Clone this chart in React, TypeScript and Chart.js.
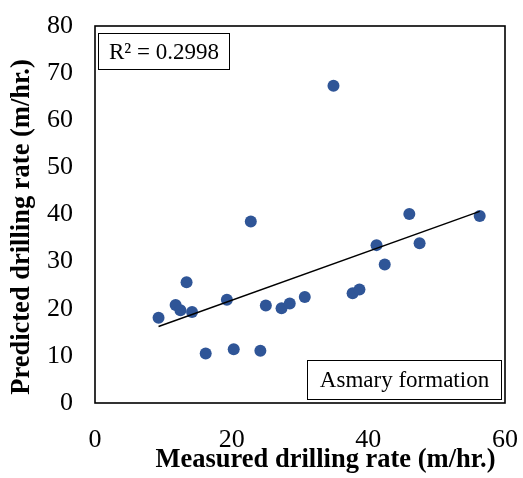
import React, { useEffect, useRef } from "react";
import { Chart, registerables } from "chart.js";

Chart.register(...registerables);

// Measured vs. predicted drilling rate, Asmary formation (m/hr.)
const measuredRate = [9.3, 11.8, 12.5, 13.4, 14.2, 16.2, 19.3, 20.3, 22.8, 24.2, 25.0, 27.3, 28.5, 30.7, 34.9, 37.7, 38.7, 41.2, 42.4, 46.0, 47.5, 56.3];
const predictedRate = [18.1, 20.8, 19.7, 25.6, 19.3, 10.5, 21.9, 11.4, 38.5, 11.1, 20.7, 20.1, 21.1, 22.5, 67.3, 23.3, 24.1, 33.5, 29.4, 40.1, 33.9, 39.7];

// Linear trendline y = slope * x + intercept
const trendSlope = 0.52;
const trendIntercept = 11.4;
const rSquaredLabel = "R\u00B2 = 0.2998";
const formationLabel = "Asmary formation";

const xTitle = "Measured drilling rate (m/hr.)";
const yTitle = "Predicted drilling rate (m/hr.)";

const SERIF = "'Liberation Serif', 'Times New Roman', serif";

const framePlugin = {
  id: "frameAndLabels",
  afterDraw(chart: any) {
    const { ctx, chartArea } = chart;
    const { left, top, right, bottom } = chartArea;
    ctx.save();

    // plot frame
    ctx.strokeStyle = "#000";
    ctx.lineWidth = 1.6;
    ctx.strokeRect(left, top, right - left, bottom - top);

    // labelled boxes
    const drawBox = (x: number, y: number, w: number, h: number, text: string) => {
      ctx.fillStyle = "#fff";
      ctx.fillRect(x, y, w, h);
      ctx.strokeStyle = "#000";
      ctx.lineWidth = 1;
      ctx.strokeRect(x + 0.5, y + 0.5, w, h);
      ctx.fillStyle = "#000";
      ctx.font = `23px ${SERIF}`;
      ctx.textAlign = "center";
      ctx.textBaseline = "middle";
      ctx.fillText(text, x + w / 2 + 0.5, y + h / 2 + 1.5);
    };
    drawBox(left + 3, top + 7, 131, 36, rSquaredLabel);
    drawBox(right - 198, bottom - 43, 194, 39, formationLabel);

    // axis titles
    ctx.fillStyle = "#000";
    ctx.font = `bold 26.5px ${SERIF}`;
    ctx.textAlign = "center";
    ctx.textBaseline = "middle";
    ctx.fillText(xTitle, 325.5, 460);

    ctx.save();
    ctx.translate(22.5, 227);
    ctx.rotate(-Math.PI / 2);
    ctx.fillText(yTitle, 0, 0);
    ctx.restore();

    ctx.restore();
  },
};

export default function App() {
  const canvasRef = useRef<HTMLCanvasElement | null>(null);

  useEffect(() => {
    document.body.style.margin = "0";
    const canvas = canvasRef.current;
    if (!canvas) return;

    const xMin = Math.min(...measuredRate);
    const xMax = Math.max(...measuredRate);
    const trend = [
      { x: xMin, y: trendSlope * xMin + trendIntercept },
      { x: xMax, y: trendSlope * xMax + trendIntercept },
    ];

    const tickFont = { family: SERIF, size: 26 };

    const chart = new Chart(canvas, {
      type: "scatter",
      data: {
        datasets: [
          {
            type: "line",
            data: trend,
            borderColor: "#000",
            borderWidth: 1.4,
            pointRadius: 0,
            fill: false,
            order: 0,
          } as any,
          {
            data: measuredRate.map((x, i) => ({ x, y: predictedRate[i] })),
            backgroundColor: "#2F5597",
            borderColor: "#2F5597",
            pointRadius: 6,
            borderWidth: 0,
            order: 1,
          },
        ],
      },
      options: {
        responsive: false,
        animation: false,
        devicePixelRatio: 1,
        layout: { padding: { top: 26, right: 18, left: 0, bottom: 0 } },
        plugins: {
          legend: { display: false },
          tooltip: { enabled: false },
        },
        scales: {
          x: {
            type: "linear",
            min: 0,
            max: 60,
            grid: { display: false, drawTicks: false },
            border: { display: false },
            ticks: { stepSize: 20, font: tickFont, color: "#000", padding: 22 },
            afterFit: (scale: any) => {
              scale.height = 75;
              scale.paddingLeft = 0;
              scale.paddingRight = 0;
            },
          },
          y: {
            type: "linear",
            min: 0,
            max: 80,
            grid: { display: false, drawTicks: false },
            border: { display: false },
            ticks: { stepSize: 10, font: tickFont, color: "#000", padding: 22 },
            afterFit: (scale: any) => {
              scale.width = 95;
              scale.paddingTop = 0;
              scale.paddingBottom = 0;
            },
          },
        },
      },
      plugins: [framePlugin],
    });

    return () => chart.destroy();
  }, []);

  return (
    <div style={{ width: 523, height: 478, background: "#fff" }}>
      <canvas ref={canvasRef} width={523} height={478} />
    </div>
  );
}
